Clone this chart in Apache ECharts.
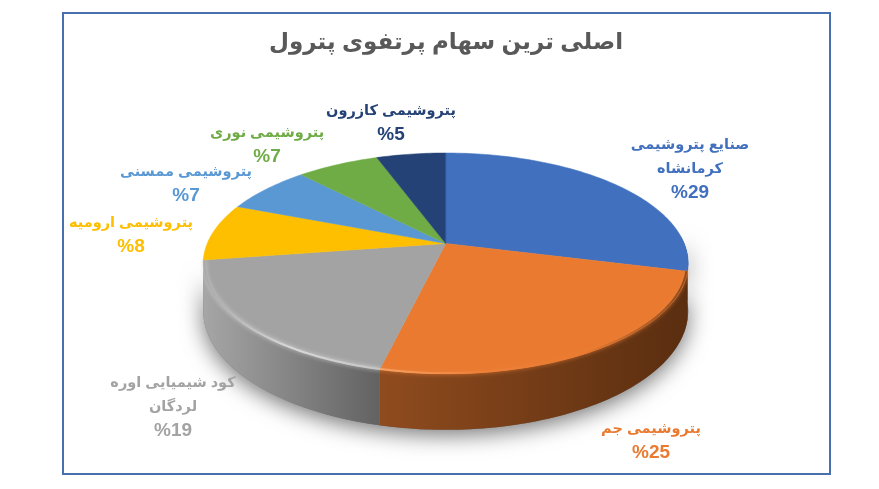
<!DOCTYPE html>
<html><head><meta charset="utf-8">
<style>html,body{margin:0;padding:0;background:#fff}#c{width:879px;height:489px}</style>
<script src="https://cdn.jsdelivr.net/npm/echarts@6/dist/echarts.min.js"></script>
</head><body><div id="c"></div>
<script>
const chartTitle = 'اصلی ترین سهام پرتفوی پترول';
const categories = [
  ['صنایع پتروشیمی','کرمانشاه'],
  ['پتروشیمی جم'],
  ['کود شیمیایی اوره','لردگان'],
  ['پتروشیمی ارومیه'],
  ['پتروشیمی ممسنی'],
  ['پتروشیمی نوری'],
  ['پتروشیمی کازرون']
];
const shares = [29, 24.67, 18.93, 8.4, 7.0, 6.51, 5.49];
const colors = ['#4170BE','#E97A30','#A3A3A3','#FDBF00','#5A98D3','#70AC46','#254276'];

const geo = {cx:445.7, cy:243.5, rx:238.5, ry:106.8, persp:-0.18, depth:46};
const labelCenters = [[690,169],[651,441],[173,407],[131,235],[186,184],[267,145],[391,123]];
const sideStops = [['#2b4d86','#2b4d86'],['#8f4b1e','#5a2e10'],['#a6a6a6','#626262'],['#a58000','#a58000'],['#3d6a95','#3d6a95'],['#4d7830','#4d7830'],['#182c50','#182c50']];
const rimStops = [null,['#f7a264','#ee8038','#e97a30','#8a4a1e'],['#a8a8a8','#d8d8d8','#c4c4c4'],null,null,null,null];

const total = shares.reduce((a,b)=>a+b,0);
const ang = p => echarts.number.linearMap(p,[0,total],[0,Math.PI*2]);
const ranges = []; { let s=0; shares.forEach(v=>{ranges.push([ang(s),ang(s+v)]); s+=v;}); }
function proj(t,k,d){
  const u=Math.sin(t), v=-Math.cos(t), w=1+geo.persp*v;
  return [geo.cx+geo.rx*k*u/w, geo.cy+(geo.ry*k*v+geo.depth*d)/w];
}
function arc(a,b,k,d){
  const n=Math.max(2,Math.ceil((b-a)/0.02)), out=[];
  for(let i=0;i<=n;i++) out.push(proj(a+(b-a)*i/n,k,d));
  return out;
}
const grad=(stops)=>new echarts.graphic.LinearGradient(0,0,1,0,stops.map((c,i)=>({offset:i/(stops.length-1),color:c})));
const VIS=[Math.PI*0.48,ranges[2][1]];

function renderShadow(){
  const lo=arc(VIS[0],VIS[1],1,1);
  const hi=arc(VIS[0],VIS[1],1,0).reverse();
  return {type:'polygon',shape:{points:lo.concat(hi)},silent:true,
    style:{fill:'#777',shadowBlur:22,shadowColor:'rgba(0,0,0,0.55)',shadowOffsetY:5}};
}
function renderSide(p){
  const r=ranges[p.dataIndex], a=Math.max(r[0],VIS[0]), b=Math.min(r[1],VIS[1]);
  if(b<=a) return {type:'group',children:[]};
  const pts=arc(a,b,1,0).concat(arc(a,b,1,1).reverse());
  const s=sideStops[p.dataIndex];
  return {type:'polygon',shape:{points:pts},silent:true,style:{fill:grad([s[0],s[1]]),stroke:null}};
}
function renderTop(p){
  const r=ranges[p.dataIndex], c=colors[p.dataIndex];
  const kids=[{type:'polygon',shape:{points:[proj(0,0,0)].concat(arc(r[0],r[1],1,0))},silent:true,
    style:{fill:c,stroke:c,lineWidth:0.5}}];
  const rs=rimStops[p.dataIndex];
  if(rs){
    const a=Math.max(r[0],VIS[0]), b=Math.min(r[1],VIS[1]);
    kids.push({type:'polyline',shape:{points:arc(a,b,0.995,0)},silent:true,
      style:{fill:null,stroke:grad(rs),lineWidth:2,shadowBlur:4,shadowColor:rs[1]}});
  }
  return {type:'group',children:kids};
}
function renderLabel(p){
  const i=p.dataIndex, c=colors[i], pos=labelCenters[i];
  const txt=categories[i].map(l=>'{n|'+l+'}').join('\n')+'\n{p|%'+Math.round(shares[i])+'}';
  return {type:'text',x:pos[0],y:pos[1],silent:true,style:{text:txt,align:'center',verticalAlign:'middle',fill:c,
    rich:{n:{fontFamily:'"Liberation Sans","DejaVu Sans"',fontWeight:'bold',fontSize:14.5,lineHeight:24,fill:c,align:'center'},
          p:{fontFamily:'"Liberation Sans","DejaVu Sans"',fontWeight:'bold',fontSize:19,lineHeight:24,fill:c,align:'center'}}}};
}
const chart=echarts.init(document.getElementById('c'),null,{renderer:'canvas'});
chart.setOption({
  animation:false, backgroundColor:'#fff',
  title:{text:chartTitle,left:446,textAlign:'center',top:31,padding:0,
    textStyle:{fontFamily:'"Liberation Sans","DejaVu Sans"',fontWeight:'bold',fontSize:23,color:'#595959'}},
  graphic:[{type:'rect',shape:{x:63,y:13,width:767,height:461},z:-1,style:{fill:'#fff',stroke:'#4A6FAE',lineWidth:2}}],
  series:[
    {type:'custom',name:'shadow',coordinateSystem:'none',data:[1],renderItem:renderShadow,z:2},
    {type:'custom',name:'side',coordinateSystem:'none',data:shares,renderItem:renderSide,z:3},
    {type:'custom',name:'top',coordinateSystem:'none',data:shares,renderItem:renderTop,z:4},
    {type:'custom',name:'labels',coordinateSystem:'none',data:shares,renderItem:renderLabel,z:5}
  ]
});
</script></body></html>
